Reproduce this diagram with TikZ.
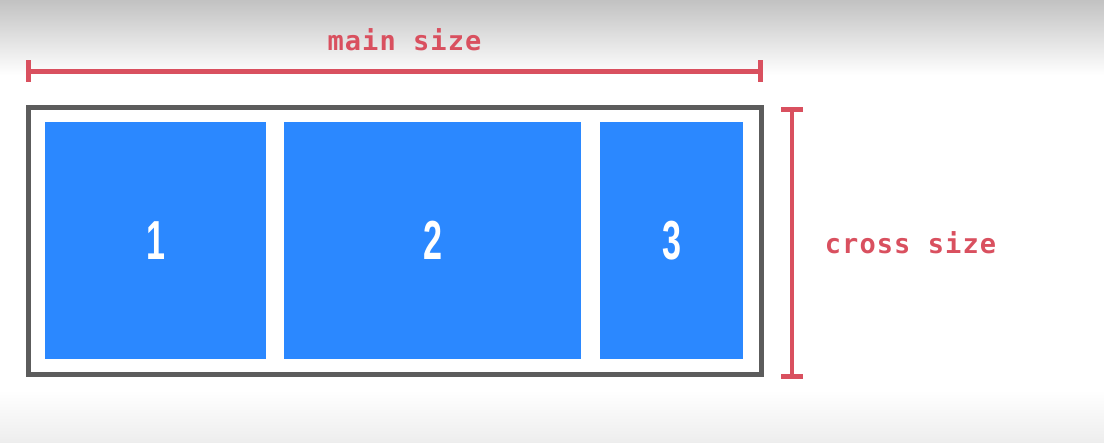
\documentclass[tikz,border=0pt]{standalone}
\usepackage{fontspec}
\usetikzlibrary{calc,positioning}
\newfontfamily\labelfont[LetterSpace=4]{DejaVu Sans Mono Bold}
\newfontfamily\numfont{Liberation Sans Bold}
\definecolor{dimred}{HTML}{D9505F}
\definecolor{itemblue}{HTML}{2B88FF}
\definecolor{boxgray}{HTML}{5C5C5C}
\tikzset{
  item/.style={fill=itemblue,inner sep=0pt,text=white,
    font=\numfont\fontsize{55}{55}\selectfont},
  dimline/.style={dimred,line width=4.5pt},
  dimtick/.style={dimred,line width=5pt},
  dimlabel/.style={text=dimred,anchor=base,inner sep=0pt,
    font=\labelfont\fontsize{27}{27}\selectfont}
}
\newcommand{\num}[1]{\scalebox{0.62}[1]{#1}}

\begin{document}
\begin{tikzpicture}[x=1pt,y=-1pt]
    \useasboundingbox (0,0) rectangle (1104,443);
    \shade[top color=black!24,bottom color=white] (0,0) rectangle (1104,75);
    \shade[top color=white,bottom color=black!7] (0,390) rectangle (1104,443);

    % container
    \coordinate (C1) at (28.5,107.5);
    \coordinate (C2) at (761.5,374.5);
    \draw[boxgray,line width=5pt] (C1) rectangle (C2);

    % flex items
    \node[item,minimum width=221pt,minimum height=237pt] (I1) at (155.5,240.5) {\num{1}};
    \node[item,minimum width=297pt,minimum height=237pt] (I2) at (432.5,240.5) {\num{2}};
    \node[item,minimum width=143pt,minimum height=237pt] (I3) at (671.5,240.5) {\num{3}};

    % main size
    \coordinate (M1) at (28.5,71.5);
    \coordinate (M2) at (760,71.5);
    \draw[dimline] (M1) -- (M2);
    \draw[dimtick] ($(M1)+(0,-11)$) -- ($(M1)+(0,11)$);
    \draw[dimtick] ($(M2)+(0,-11)$) -- ($(M2)+(0,11)$);
    \node[dimlabel] (ML) at (404.5,50.5) {main size};

    % cross size
    \coordinate (S1) at (792,109.5);
    \coordinate (S2) at (792,377);
    \draw[dimline] (S1) -- (S2);
    \draw[dimtick] ($(S1)+(-11,0)$) -- ($(S1)+(11,0)$);
    \draw[dimtick] ($(S2)+(-11,0)$) -- ($(S2)+(11,0)$);
    \node[dimlabel] (SL) at (910.5,253.5) {cross size};
\end{tikzpicture}
\end{document}
